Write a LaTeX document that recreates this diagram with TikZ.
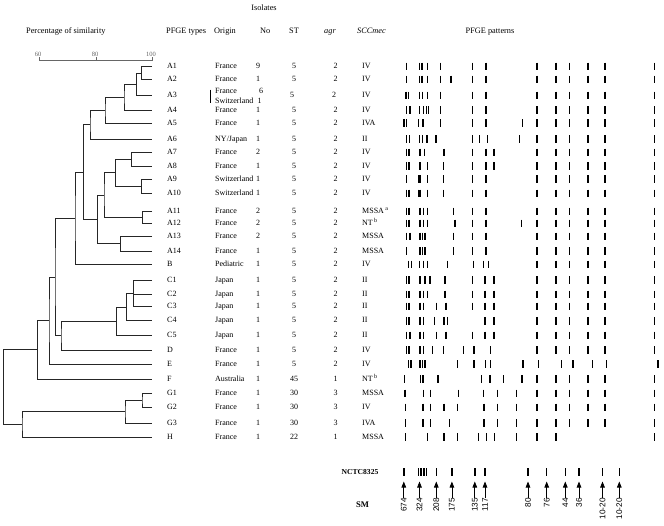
\documentclass[tikz,border=0pt]{standalone}
\usepackage{fontspec}
\setmainfont{Liberation Serif}
\newfontfamily\smfont{Liberation Sans}
\usetikzlibrary{arrows.meta}

\tikzset{
  txt/.style={inner sep=0pt, text height=5.6pt, text depth=1.6pt, font=\fontsize{8}{9}\selectfont},
  hd/.style={txt, font=\fontsize{8.3}{10}\selectfont},
  scl/.style={inner sep=0pt, font=\fontsize{6.5}{7}\selectfont, text=black!60},
  band/.style={line width=1.45pt},
  tree/.style={line width=0.7pt, black!85},
  smlab/.style={inner sep=0pt, rotate=90, anchor=east, font=\smfont\fontsize{8.2}{9}\selectfont},
  smarrow/.style={line width=0.7pt, -{Triangle[length=6pt,width=4.6pt]}},
}

% one lane of bands; optional arg = right-hand bands
\newcommand\pfge[3][537,556,569.3,588,605,654.5]{%
  \foreach \x in {#3,#1} \draw[band] (\x,#2-3.8) -- (\x,#2+3.8);}

\begin{document}
\begin{tikzpicture}[x=1pt,y=-1pt]
  \useasboundingbox (0,0) rectangle (664,525);

  % headers
  \node[hd] (isol) at (264,8) {Isolates};
  \node[hd, anchor=west] (pct) at (26,31) {Percentage of similarity};
  \node[hd, anchor=west] (hty) at (166,31) {PFGE types};
  \node[hd, anchor=west] (hor) at (214,31) {Origin};
  \node[hd, anchor=west] (hno) at (260,31) {No};
  \node[hd, anchor=west] (hst) at (289,31) {ST};
  \node[hd, anchor=west] (hag) at (324,31) {\itshape agr};
  \node[hd, anchor=west] (hsc) at (357,31) {\itshape SCCmec};
  \node[hd] (hpf) at (490,31) {PFGE patterns};

  % similarity scale
  \draw[black!60, line width=0.6pt] (39,60) -- (152,60);
  \foreach \p/\v in {39/60, 96/80, 152/100} {
    \draw[black!60, line width=0.6pt] (\p,57) -- (\p,61);
    \node[scl] (sc\v) at (\p-1,54) {\v};
  }

  % table rows
  \foreach \n/\y/\o/\k/\s/\g/\m in {
      A1/66.5/France/9/5/2/IV,
      A2/79.5/France/1/5/2/IV,
      A4/110/France/1/5/2/IV,
      A5/123/France/1/5/2/IVA,
      A6/139/{NY/Japan}/1/5/2/II,
      A7/152.5/France/2/5/2/IV,
      A8/166/France/1/5/2/IV,
      A9/179/Switzerland/1/5/2/IV,
      A10/193.5/Switzerland/1/5/2/IV,
      A11/211.5/France/2/5/2/{MSSA\,\textsuperscript{a}},
      A12/223.5/France/2/5/2/{NT\,\textsuperscript{b}},
      A13/236.5/France/2/5/2/MSSA,
      A14/251/France/1/5/2/MSSA,
      B/264.5/Pediatric/1/5/2/IV,
      C1/280/Japan/1/5/2/II,
      C2/294.5/Japan/1/5/2/II,
      C3/306.5/Japan/1/5/2/II,
      C4/320.7/Japan/1/5/2/II,
      C5/335.5/Japan/1/5/2/II,
      D/350/France/1/5/2/IV,
      E/364/France/1/5/2/IV,
      F/379/Australia/1/45/1/{NT\,\textsuperscript{b}},
      G1/393.3/France/1/30/3/MSSA,
      G2/407.5/France/1/30/3/IV,
      G3/423/France/1/30/3/IVA,
      H/437/France/1/22/1/MSSA} {
    \coordinate (lf-\n) at (152,\y);
    \node[txt, anchor=west] (ty-\n) at (167,\y) {\n};
    \node[txt, anchor=west] (or-\n) at (215,\y) {\o};
    \node[txt] (no-\n) at (258,\y) {\k};
    \node[txt] (st-\n) at (294,\y) {\s};
    \node[txt] (ag-\n) at (335.5,\y) {\g};
    \node[txt, anchor=west] (sc-\n) at (362,\y) {\m};
  }
  % A3 has two origins
  \coordinate (lf-A3) at (152,95.5);
  \node[txt, anchor=west] (ty-A3) at (167,95.5) {A3};
  \node[txt, anchor=west] (or-A3a) at (215,91) {France};
  \node[txt, anchor=west] (or-A3b) at (215,101) {Switzerland};
  \node[txt] (no-A3a) at (261,91) {6};
  \node[txt] (no-A3b) at (259.5,101) {1};
  \node[txt] (st-A3) at (292,95.5) {5};
  \node[txt] (ag-A3) at (334,95.5) {2};
  \node[txt, anchor=west] (sc-A3) at (362,95.5) {IV};
  \draw[line width=0.5pt] (210.5,89.5) -- (210.5,102.5);

  % dendrogram
  \coordinate (n1) at (141.7,73);
  \coordinate (n2) at (136.7,84.25);
  \coordinate (n3) at (124,97.1);
  \coordinate (n4) at (105,110);
  \coordinate (n5) at (90,124.5);
  \coordinate (n6) at (131.7,159.25);
  \coordinate (n7) at (141.7,186.25);
  \coordinate (n8) at (115.7,172.75);
  \coordinate (n9) at (142.7,217.5);
  \coordinate (n10) at (104,195.1);
  \coordinate (n11) at (120.7,243.75);
  \coordinate (n12) at (97.7,219.4);
  \coordinate (n13) at (83.3,172);
  \coordinate (n14) at (75,218.25);
  \coordinate (c1) at (133.3,293.25);
  \coordinate (c2) at (126.7,307);
  \coordinate (c3) at (116.7,321.25);
  \coordinate (c4) at (61,335.6);
  \coordinate (n15) at (55,276.9);
  \coordinate (n16) at (49,320.45);
  \coordinate (n17) at (37.7,349.7);
  \coordinate (g1) at (142,400.4);
  \coordinate (g2) at (125,411.7);
  \coordinate (g3) at (22,424.35);
  \coordinate (root) at (3.3,387);

  \draw[tree] (lf-A1) -| (n1) |- (lf-A2);
  \draw[tree] (n1) -| (n2) |- (lf-A3);
  \draw[tree] (n2) -| (n3) |- (lf-A4);
  \draw[tree] (n3) -| (n4) |- (lf-A5);
  \draw[tree] (n4) -| (n5) |- (lf-A6);
  \draw[tree] (lf-A7) -| (n6) |- (lf-A8);
  \draw[tree] (lf-A9) -| (n7) |- (lf-A10);
  \draw[tree] (n6) -| (n8) |- (n7);
  \draw[tree] (lf-A11) -| (n9) |- (lf-A12);
  \draw[tree] (n8) -| (n10) |- (n9);
  \draw[tree] (lf-A13) -| (n11) |- (lf-A14);
  \draw[tree] (n10) -| (n12) |- (n11);
  \draw[tree] (n5) -| (n13) |- (n12);
  \draw[tree] (n13) -| (n14) |- (lf-B);
  \draw[tree] (lf-C1) -| (c1) |- (lf-C3);
  \draw[tree] (c1 |- lf-C2) -- (lf-C2);
  \draw[tree] (c1) -| (c2) |- (lf-C4);
  \draw[tree] (c2) -| (c3) |- (lf-C5);
  \draw[tree] (c3) -| (c4) |- (lf-D);
  \draw[tree] (n14) -| (n15) |- (c4);
  \draw[tree] (n15) -| (n16) |- (lf-E);
  \draw[tree] (n16) -| (n17) |- (lf-F);
  \draw[tree] (lf-G1) -| (g1) |- (lf-G2);
  \draw[tree] (g1) -| (g2) |- (lf-G3);
  \draw[tree] (g2) -| (g3) |- (lf-H);
  \draw[tree] (n17) -| (root) |- (g3);

  % PFGE patterns
  \pfge{66.5}{406.7,419.3,422,427.3,440.7,472.7,486}
  \pfge{79.5}{406.7,419.3,422,427.3,440.7,451,472.7,486}
  \pfge{95.5}{406,408.6,419.3,422.3,427.3,440.7,472.7,486}
  \pfge{110}{406.5,410,419.5,423.5,426.3,428.7,440.7,472.7,486}
  \pfge{123}{403.9,406.5,418.7,423,440.7,472.7,486,522.5}
  \pfge{139}{406.5,409.5,419.3,422.7,427,436,472.7,479.3,487.7,519.7}
  \pfge{152.5}{406.3,408.9,420,424.3,444,472.7,486,494}
  \pfge{166}{406.3,408.9,420,427.3,443.3,472.7,486,494}
  \pfge{179}{406.7,418.3,419.9,427.3,443.3,472.7,486}
  \pfge{193.5}{406.3,408.9,418.3,419.9,427.3,443.3,472.7,486}
  \pfge{211.5}{406.3,408.9,420,423.3,427.3,453.3,472.7,486}
  \pfge{223.5}{406.3,408.9,420,423.3,427.3,455,472.7,486,521.7}
  \pfge{236.5}{406.7,410,420,422.4,424.8,453.3,472.7,486}
  \pfge{251}{406.7,420,422.4,424.8,453.3,472.7,486}
  \pfge{264.5}{408.3,411.3,419.7,423.3,427.7,447.7,473.7,483.3,488.7}
  \pfge{280}{406.3,408.9,420,425,430,445,472.7,485,494}
  \pfge{294.5}{406.3,408.9,420,423.3,427.3,445,472.7,485,494}
  \pfge{306.5}{406.3,408.9,420,423.3,436.7,446,472.7,485,494}
  \pfge{320.7}{406.3,408.9,420,423.3,434.3,444,447.3,485,494}
  \pfge{335.5}{406.7,410,420,423.3,436.7,446,472.7,485,494}
  \pfge{350}{406.3,408.9,420,423.3,432.7,443.3,463.3,474,490.7}
  \pfge[538.5,561.7,573,592.5,606.7,658]{364}{408.3,410.8,420,422.7,425,457.3,474,485.7,490.7,523}
  \pfge{379}{404.5,420.5,423,438,481.3,490,503.3,522}
  \pfge{393.3}{405,423.3,430.3,458.3,483.7,497.5,516.7}
  \pfge{407.5}{405.3,423,430.5,444.2,457.7,483.8,497.6,516.7}
  \pfge{423}{405.3,423,430.5,449.7,483.8,497.6,516.7}
  \pfge[537,556,654.5]{437}{405.3,427.3,444,457.3,478.7,486.7,494.7,516.7}

  % size marker
  \node[txt, font=\bfseries\fontsize{7.6}{9}\selectfont] (nctc) at (360,472.5) {NCTC8325};
  \node[txt, font=\bfseries\fontsize{8.6}{10}\selectfont] (sm) at (362.5,505) {SM};
  \pfge[528,546.7,565.3,579,602.5,619.3]{472}{403.8,418.5,421.2,424,426.7,436.3,451.9,474.8,485}
  \foreach \i/\x/\l in {1/403.8/674, 2/419.5/324, 3/436.3/208, 4/451.9/175,
      5/474.8/135, 6/485/117, 7/528/80, 8/546.7/76, 9/565.3/44, 10/579/36,
      11/602.5/10-20, 12/619.3/10-20} {
    \node[smlab] (sm\i) at (\x,498) {\l};
    \coordinate (tip\i) at (\x,481.5);
    \draw[smarrow] (sm\i.east) -- (tip\i);
  }
\end{tikzpicture}
\end{document}
